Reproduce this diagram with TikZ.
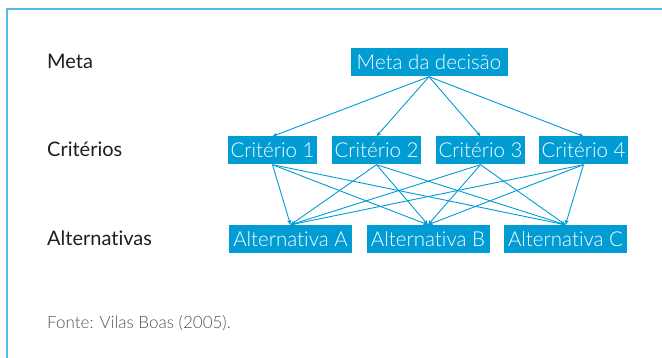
\documentclass[tikz,border=0pt]{standalone}
\usepackage{fontspec}
\setmainfont{Lato}[Ligatures={NoCommon}]
\newfontfamily\lightfont{Lato Light}[Ligatures={NoCommon}]
\usepackage{xcolor}
\usepackage{tikz}
\usetikzlibrary{arrows.meta, positioning}
\definecolor{boxblue}{RGB}{0,156,211}
\definecolor{framecolor}{RGB}{88,186,226}
\definecolor{labelgray}{RGB}{30,30,30}
\definecolor{sourcegray}{RGB}{85,85,85}

\begin{document}
\begin{tikzpicture}[x=1pt, y=-1pt]

	\tikzstyle{levelbox}=[rectangle, fill=boxblue, text=white, inner sep=2pt, minimum height=28pt, font=\lightfont\fontsize{20.5}{22}\selectfont]
	\tikzstyle{levellabel}=[anchor=base west, inner sep=0pt, text=labelgray, font=\fontsize{20}{22}\selectfont]
	\tikzstyle{link}=[draw=boxblue, line width=0.9pt, -{Stealth[length=5pt, width=4pt]}]

	\useasboundingbox (0,0) rectangle (662,358);

	% frame
	\draw [framecolor, line width=2pt] (7,358) -- (7,9) -- (662,9);

	% level names
	\node (metalabel) at (47,69) [levellabel] {Meta};
	\node (critlabel) at (47,157) [levellabel] {Critérios};
	\node (altlabel) at (47,246) [levellabel] {Alternativas};

	\node (meta) at (429,62.5) [levelbox, minimum width=157pt] {Meta da decisão};

	\node (crit1) at (272.5,150.5) [levelbox, minimum width=89pt] {Critério 1};
	\node (crit2) at (376.5,150.5) [levelbox, minimum width=89pt] {Critério 2};
	\node (crit3) at (480.5,150.5) [levelbox, minimum width=89pt] {Critério 3};
	\node (crit4) at (583.5,150.5) [levelbox, minimum width=89pt] {Critério 4};

	\node (altA) at (290.5,239) [levelbox, minimum width=123pt] {Alternativa A};
	\node (altB) at (428,239) [levelbox, minimum width=123pt] {Alternativa B};
	\node (altC) at (565.5,239) [levelbox, minimum width=123pt] {Alternativa C};

	\foreach \c in {1,2,3,4} {
		\draw [link] (meta.south) -- (crit\c.north);
		\foreach \a in {A,B,C}
			\draw [link] (crit\c.south) -- (alt\a.north);
	}

	\node (source) at (47,329) [anchor=base west, inner sep=0pt, text=sourcegray, font=\lightfont\fontsize{17}{19}\selectfont] {Fonte: Vilas Boas (2005).};
\end{tikzpicture}
\end{document}
